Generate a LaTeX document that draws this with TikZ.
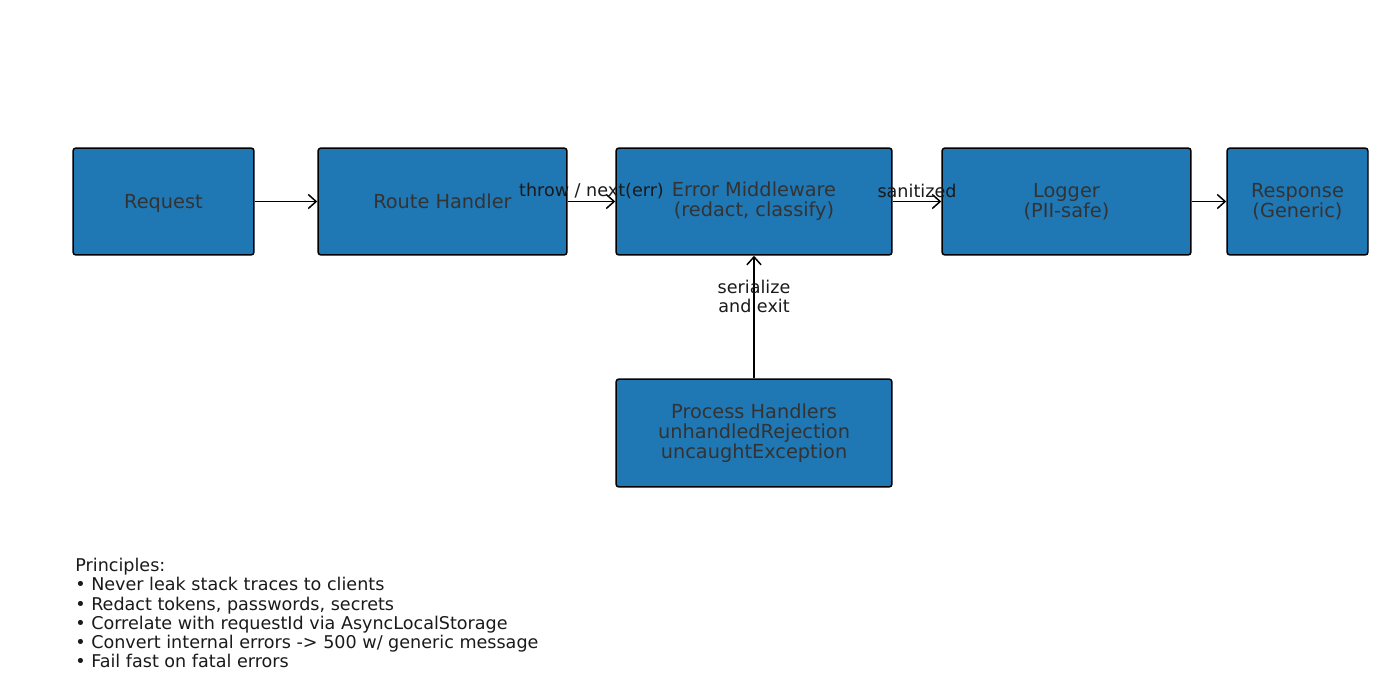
\documentclass[tikz,border=0pt]{standalone}
\usepackage{fontspec}
\setmainfont{DejaVu Sans}
\usepackage{xcolor}
\usetikzlibrary{arrows.meta}
\definecolor{boxblue}{HTML}{1F77B4}
\definecolor{boxtext}{HTML}{333333}
\definecolor{notetext}{HTML}{1A1A1A}

\begin{document}
\begin{tikzpicture}[x=0.02cm,y=-0.02cm,
    stage/.style={draw=black,line width=0.85pt,fill=boxblue,rounded corners=0.06cm,
      text=boxtext,align=center,minimum height=2.14cm,inner sep=0pt,
      font=\fontsize{11}{11.3}\selectfont},
    flow/.style={->,line width=0.85pt,>={Straight Barb[length=4.5pt,width=8pt]}},
    flowlabel/.style={text=notetext,align=center,inner sep=0pt,
      font=\fontsize{10}{11}\selectfont}]
  \useasboundingbox (0,0) rectangle (1400,700);

  % main pipeline
  \node (req) [stage,minimum width=3.62cm,text depth=0pt] at (163.5,201.5) {Request};
  \node (rh) [stage,minimum width=4.98cm] at (442.5,201.5) {Route Handler};
  \node (em) [stage,minimum width=5.52cm] at (754,201.5)
    {Error Middleware\\(redact, classify)};
  \node (lg) [stage,minimum width=4.98cm] at (1066.5,201.5) {Logger\\(PII-safe)};
  \node (rs) [stage,minimum width=2.82cm] at (1297.5,201.5) {Response\\(Generic)};

  % process level handlers
  \node (ph) [stage,minimum width=5.52cm,minimum height=2.16cm] at (754,433)
    {Process Handlers\\unhandledRejection\\uncaughtException};

  \draw[flow] (req) -- (rh);
  \draw[flow] (rh) -- (em)
    node [flowlabel,midway,yshift=0.22cm] {throw / next(err)};
  \draw[flow] (em) -- (lg)
    node [flowlabel,midway,yshift=0.22cm] {sanitized};
  \draw[flow] (lg) -- (rs);
  \draw[flow] (ph) -- (em)
    node [flowlabel,pos=0.67] {serialize\\and exit};

  \node (notes) [text=notetext,align=left,anchor=north west,inner sep=0pt,
    font=\fontsize{10}{10.9}\selectfont] at (75,558)
    {Principles:\\
     • Never leak stack traces to clients\\
     • Redact tokens, passwords, secrets\\
     • Correlate with requestId via AsyncLocalStorage\\
     • Convert internal errors -> 500 w/ generic message\\
     • Fail fast on fatal errors};
\end{tikzpicture}
\end{document}
